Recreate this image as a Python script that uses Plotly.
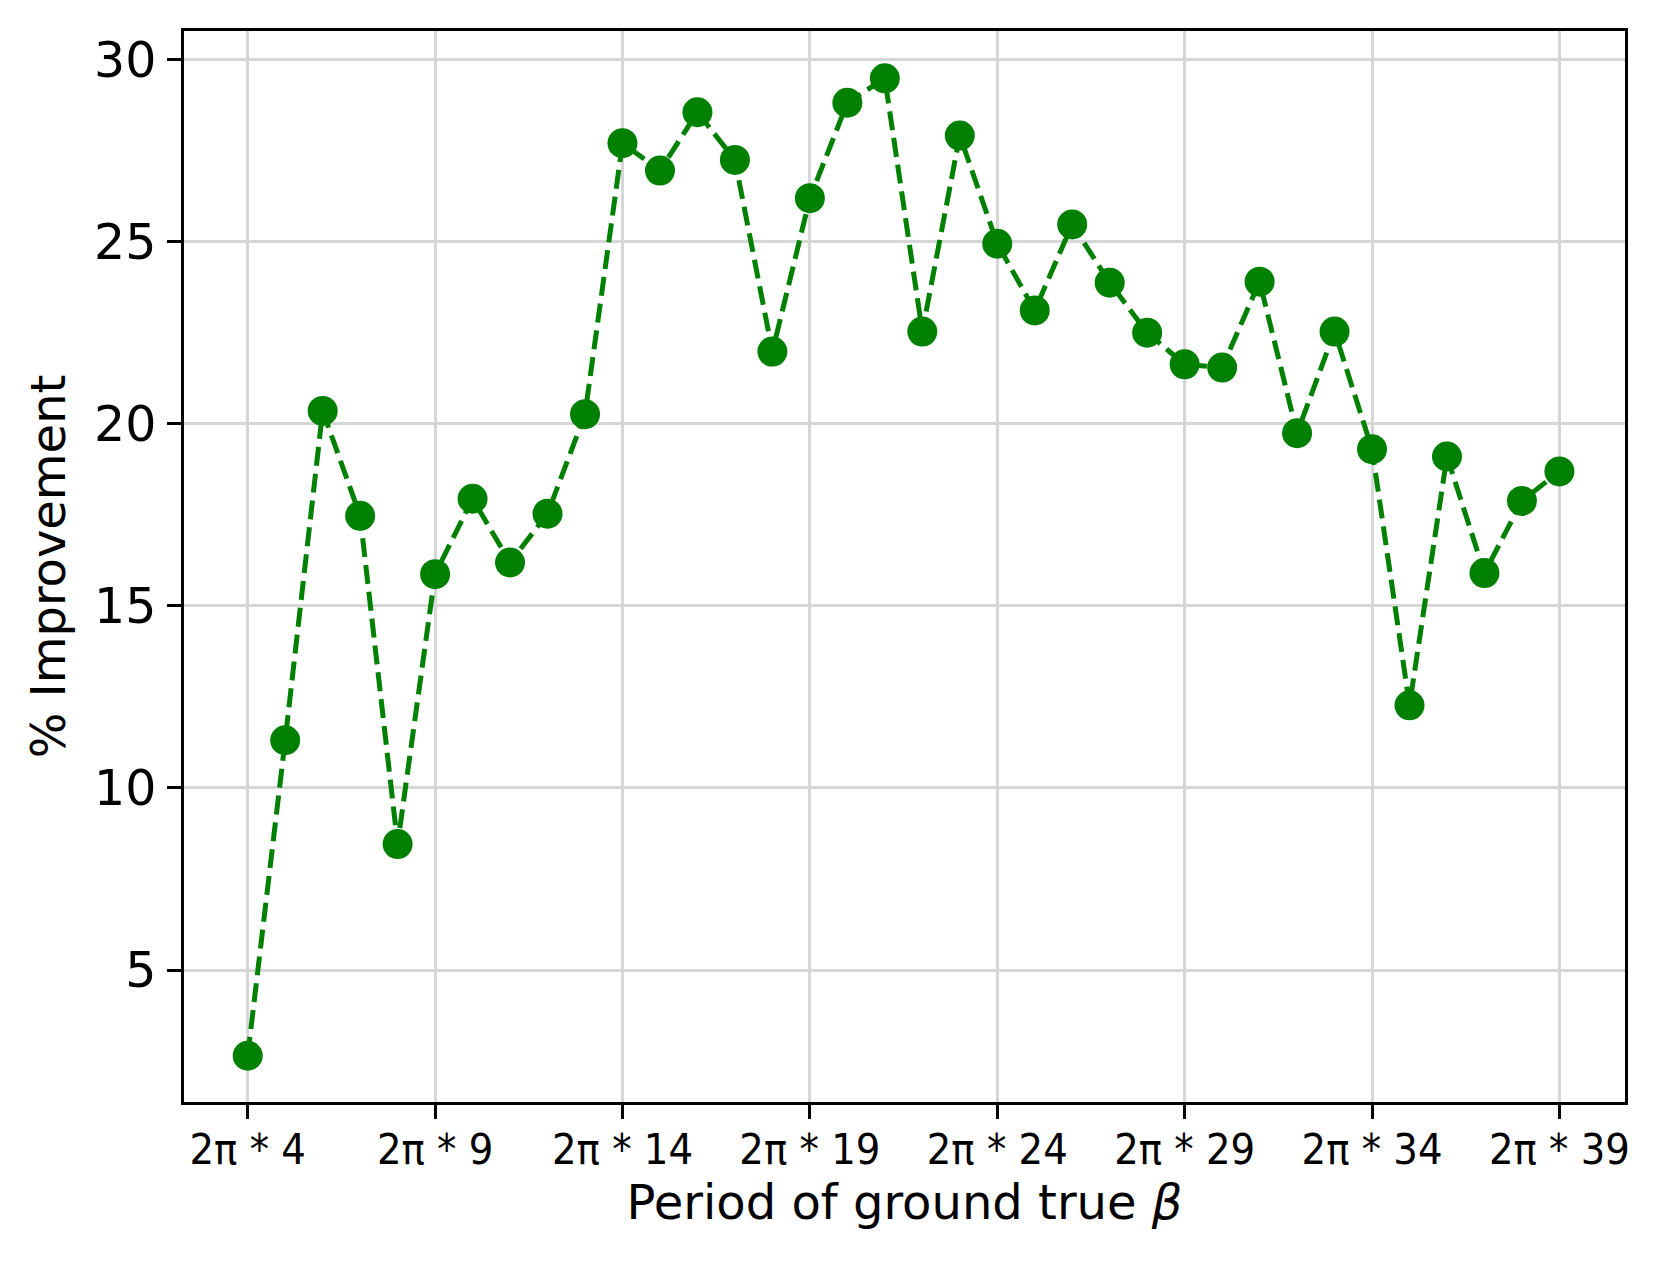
import plotly.graph_objects as go

periods = list(range(4, 40))
improvement = [2.65, 11.31, 20.35, 17.47, 8.46, 15.87, 17.94, 16.19, 17.53, 20.26,
               27.70, 26.95, 28.55, 27.24, 21.98, 26.19, 28.81, 29.48, 22.53, 27.91,
               24.94, 23.11, 25.47, 23.87, 22.50, 21.63, 21.54, 23.90, 19.74, 22.53,
               19.30, 12.27, 19.10, 15.90, 17.88, 18.69]
xtick_vals = [4, 9, 14, 19, 24, 29, 34, 39]
xtick_text = ["2π * %d" % v for v in xtick_vals]
ytick_vals = [5, 10, 15, 20, 25, 30]

fig = go.Figure()
fig.add_trace(go.Scatter(
    x=periods, y=improvement, mode="lines+markers",
    line=dict(color="#008000", width=5, dash="19px,8px"),
    marker=dict(color="#008000", size=30),
    showlegend=False,
))

axis_common = dict(
    showline=True, linecolor="black", linewidth=2.5, mirror=True,
    ticks="outside", ticklen=14, tickwidth=2.5, tickcolor="black",
    showgrid=True, gridcolor="#d6d6d6", gridwidth=2.5, zeroline=False,
)

fig.update_layout(
    width=1662, height=1270,
    margin=dict(l=176, r=45, t=23, b=176),
    paper_bgcolor="white", plot_bgcolor="white",
    font=dict(family="DejaVu Sans", color="black"),
    xaxis=dict(
        range=[2.3, 40.75], tickvals=xtick_vals, ticktext=xtick_text,
        tickfont=dict(family="DejaVu Sans Condensed, DejaVu Sans", size=43), ticklabelstandoff=-6,
        title=dict(text="Period of ground true <i>β</i>", font=dict(size=48), standoff=12),
        **axis_common,
    ),
    yaxis=dict(
        range=[1.38, 30.78], tickvals=ytick_vals,
        tickfont=dict(size=49), ticklabelstandoff=1,
        title=dict(text="% Improvement", font=dict(size=48), standoff=14),
        **axis_common,
    ),
)

fig.write_html("out.html")
